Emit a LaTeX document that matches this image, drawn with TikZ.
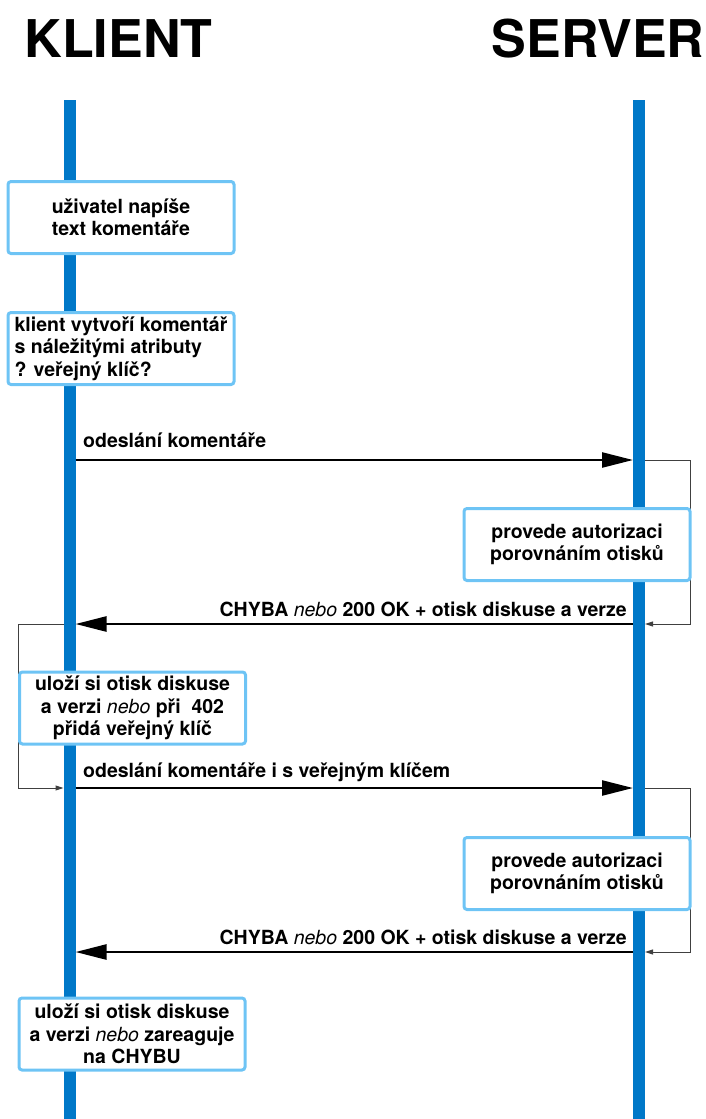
\documentclass[tikz,border=0pt]{standalone}
\usepackage{fontspec}
\setmainfont{TeX Gyre Heros}
\usetikzlibrary{arrows.meta}
\definecolor{lifeblue}{RGB}{0,120,200}
\definecolor{boxblue}{RGB}{110,196,245}
\newcommand\nebotxt{{\mdseries\itshape nebo}}
\begin{document}
\begin{tikzpicture}[x=1pt,y=-1pt,
  lifeline/.style={draw=lifeblue, line width=12pt},
  actbox/.style={draw=boxblue, fill=white, line width=3pt, rounded corners=3pt,
    minimum width=226pt, minimum height=72pt, align=center, inner sep=0pt,
    font=\bfseries\fontsize{19.5}{22.5}\selectfont},
  msg/.style={line width=2.5pt, -{Triangle[length=31pt,width=15pt]}},
  loopline/.style={line width=1pt, black!75, -{Triangle[length=8pt,width=5pt]}},
  lbl/.style={font=\bfseries\fontsize{19.5}{22.5}\selectfont, inner sep=0pt},
  titletxt/.style={font=\bfseries\fontsize{52}{60}\selectfont, inner sep=0pt}]
\useasboundingbox (0,0) rectangle (706,1119);
% titles
\node[titletxt, anchor=base] (klient) at (118.5,57) {KLIENT};
\node[titletxt, anchor=base] (server) at (598,57) {SERVER};
% lifelines
\coordinate (ktop) at (69.5,100);
\coordinate (kbot) at (69.5,1119);
\coordinate (stop) at (639,100);
\coordinate (sbot) at (639,1119);
\draw[lifeline] (ktop) -- (kbot);
\draw[lifeline] (stop) -- (sbot);
% message anchor points
\coordinate (k1) at (75.5,460);  \coordinate (s1) at (633,460);  \coordinate (s1r) at (645,460);
\coordinate (k2) at (75.5,624);  \coordinate (s2) at (633,624);  \coordinate (s2r) at (645,624);
\coordinate (k2l) at (63.5,624);
\coordinate (k3) at (75.5,788);  \coordinate (s3) at (633,788);  \coordinate (s3r) at (645,788);
\coordinate (k3l) at (63.5,788);
\coordinate (k4) at (75.5,952);  \coordinate (s4) at (633,952);  \coordinate (s4r) at (645,952);
% loop corner points
\coordinate (sl1a) at (690,460); \coordinate (sl1b) at (690,624);
\coordinate (kla) at (18,624);   \coordinate (klb) at (18,788);
\coordinate (sl2a) at (690,788); \coordinate (sl2b) at (690,952);
% loops
\draw[loopline] (s1r) -- (sl1a) -- (sl1b) -- (s2r);
\draw[loopline] (k2l) -- (kla) -- (klb) -- (k3l);
\draw[loopline] (s3r) -- (sl2a) -- (sl2b) -- (s4r);
% boxes
\node[actbox] (b1) at (121,217.5) {uživatel napíše\\text komentáře};
\node[actbox, align=left] (b2) at (121,348.5) {klient vytvoří komentář\\s náležitými atributy\\? veřejný klíč?};
\node[actbox] (b3) at (577,544.5) {provede autorizaci\\porovnáním otisků};
\node[actbox] (b4) at (132.5,708) {uloží si otisk diskuse\\a verzi \nebotxt{} při~ 402\\přidá veřejný klíč};
\node[actbox] (b5) at (577,873.5) {provede autorizaci\\porovnáním otisků};
\node[actbox] (b6) at (132,1034) {uloží si otisk diskuse\\a verzi \nebotxt{} zareaguje\\na CHYBU};
% messages
\draw[msg] (k1) -- (s1);
\draw[msg] (s2) -- (k2);
\draw[msg] (k3) -- (s3);
\draw[msg] (s4) -- (k4);
\node[lbl, anchor=base west] (m1) at (83,447) {odeslání komentáře};
\node[lbl, anchor=base east] (m2) at (627,616) {CHYBA \nebotxt{} 200 OK + otisk diskuse a verze};
\node[lbl, anchor=base west] (m3) at (83,777) {odeslání komentáře i s veřejným klíčem};
\node[lbl, anchor=base east] (m4) at (627,944) {CHYBA \nebotxt{} 200 OK + otisk diskuse a verze};
\end{tikzpicture}
\end{document}
